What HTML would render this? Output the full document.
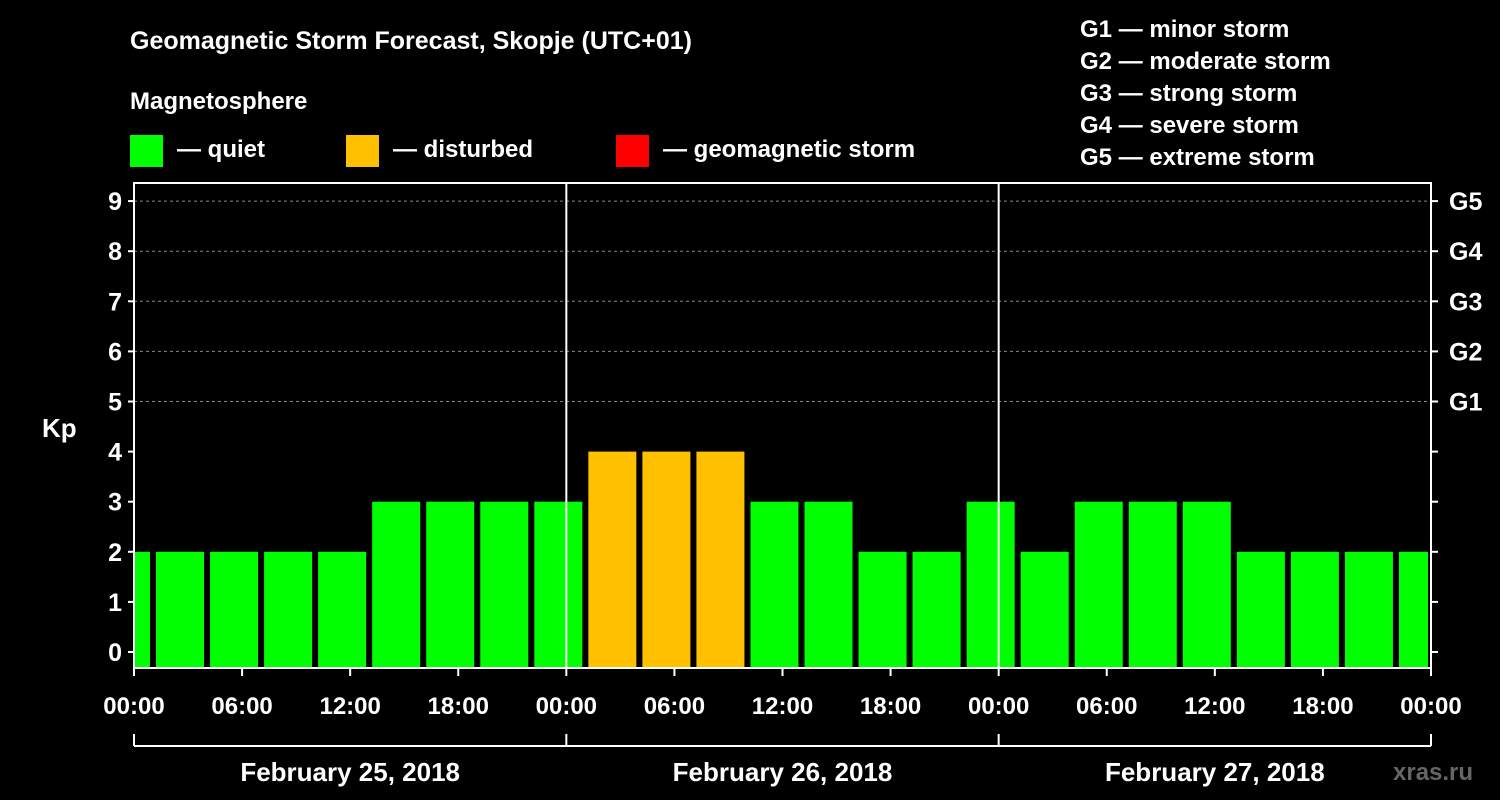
<!DOCTYPE html>
<html><head><meta charset="utf-8"><style>
html,body{margin:0;padding:0;background:#000;width:1500px;height:800px;overflow:hidden}
svg{display:block;font-family:"Liberation Sans",Arial,sans-serif;font-weight:bold;fill:#fff}
</style></head><body>
<svg id="chart" width="1500" height="800">
<text x="130" y="49" font-size="25">Geomagnetic Storm Forecast, Skopje (UTC+01)</text>
<text x="130" y="109" font-size="24">Magnetosphere</text>
<g><rect x="130" y="135" width="33" height="32" fill="#00ff00"/><text x="177" y="157" font-size="24">— quiet</text></g>
<g><rect x="346" y="135" width="33" height="32" fill="#ffc000"/><text x="393" y="157" font-size="24">— disturbed</text></g>
<g><rect x="616" y="135" width="33" height="32" fill="#ff0000"/><text x="663" y="157" font-size="24">— geomagnetic storm</text></g>
<g font-size="24">
<text x="1080" y="37">G1 — minor storm</text><text x="1080" y="69">G2 — moderate storm</text><text x="1080" y="101">G3 — strong storm</text><text x="1080" y="133">G4 — severe storm</text><text x="1080" y="165">G5 — extreme storm</text></g>
<text x="42" y="437" font-size="26">Kp</text>
<g id="plot"></g>
<text x="1393" y="780" font-size="24" fill="#555" style="fill:#666">xras.ru</text>
</svg>
<script>
const kpValues=[2,2,2,2,2,3,3,3,3,4,4,4,3,3,2,2,3,2,3,3,3,2,2,2,2];
const startHours=[-2,1,4,7,10,13,16,19,22,25,28,31,34,37,40,43,46,49,52,55,58,61,64,67,70];
const yTicks=[0,1,2,3,4,5,6,7,8,9];
const gLabels=["G1","G2","G3","G4","G5"];
const xTickLabels=["00:00","06:00","12:00","18:00","00:00","06:00","12:00","18:00","00:00","06:00","12:00","18:00","00:00"];
const dayLabels=["February 25, 2018","February 26, 2018","February 27, 2018"];
const X0=134,X1=1431,YT=183,YB=668;
const xs=h=>X0+(X1-X0)*h/72;
const ys=v=>652-v*50.1;
const NS="http://www.w3.org/2000/svg";
const plot=document.getElementById('plot');
function mk(t,a){const e=document.createElementNS(NS,t);for(const k in a)e.setAttribute(k,a[k]);plot.appendChild(e);return e;}
// grid
for(let v=5;v<=9;v++){const l=mk('line',{x1:X0,x2:X1,y1:ys(v),y2:ys(v),stroke:'#888','stroke-dasharray':'3,3','stroke-width':1});

}
// bars
kpValues.forEach((v,i)=>{let a=xs(startHours[i])+4,b=xs(startHours[i])+52;a=Math.max(a,X0+1);b=Math.min(b,X1-3);
const r=mk('rect',{x:a,y:ys(v),width:b-a,height:YB-ys(v),fill:v>=5?'#ff0000':(v>=4?'#ffc000':'#00ff00')});

});
// day lines
[24,48].forEach(h=>{const l=mk('line',{x1:xs(h),x2:xs(h),y1:YT,y2:YB,stroke:'#fff','stroke-width':2});

});
const fr=mk('rect',{x:X0,y:YT,width:X1-X0,height:YB-YT,fill:'none',stroke:'#fff','stroke-width':2});


// y ticks
yTicks.forEach(v=>{mk('line',{x1:X0-6,x2:X0,y1:ys(v),y2:ys(v),stroke:'#fff','stroke-width':2});
mk('line',{x1:X1,x2:X1+7,y1:ys(v),y2:ys(v),stroke:'#fff','stroke-width':2});
const t=mk('text',{x:X0-12,y:ys(v)+9,'text-anchor':'end','font-size':25});t.textContent=v;

});
gLabels.forEach((g,i)=>{const t=mk('text',{x:X1+18,y:ys(i+5)+9,'font-size':25});t.textContent=g;

});
// x ticks
xTickLabels.forEach((s,i)=>{const x=xs(i*6);mk('line',{x1:x,x2:x,y1:YB,y2:YB+8,stroke:'#fff','stroke-width':2});
const t=mk('text',{x:x,y:714,'text-anchor':'middle','font-size':24});t.textContent=s;

});
// day brackets
mk('line',{x1:X0,x2:X1,y1:746,y2:746,stroke:'#fff','stroke-width':2});
[0,24,48,72].forEach(h=>mk('line',{x1:xs(h),x2:xs(h),y1:734,y2:746,stroke:'#fff','stroke-width':2}));
dayLabels.forEach((s,i)=>{const t=mk('text',{x:xs(i*24+12),y:781,'text-anchor':'middle','font-size':26});t.textContent=s;

});
</script>
</body></html>
